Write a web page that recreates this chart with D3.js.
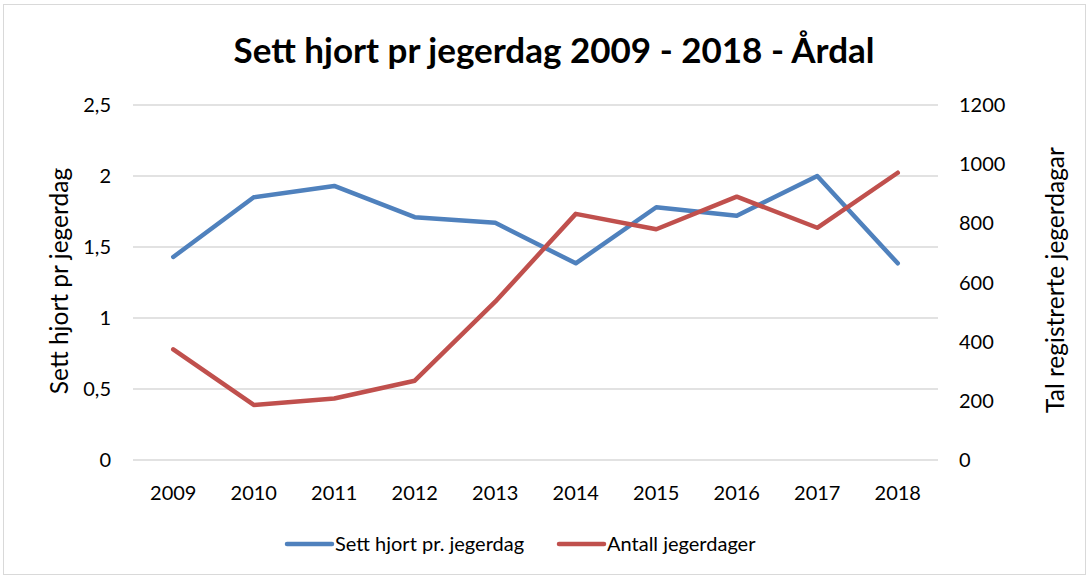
<!DOCTYPE html>
<html><head><meta charset="utf-8">
<script src="https://cdn.jsdelivr.net/npm/d3@7"></script>
<style>body{margin:0;background:#fff}svg{display:block}text{font-family:Lato,"Open Sans",sans-serif;fill:#000}</style>
</head><body><svg id="c" width="1090" height="576"></svg>
<script>
const years = ["2009","2010","2011","2012","2013","2014","2015","2016","2017","2018"];
const settHjort = [1.43,1.85,1.93,1.71,1.67,1.385,1.78,1.72,2.0,1.385];
const antallJegerdager = [374,186,208,268,535,832,780,890,785,971];
const leftTicks = [0,0.5,1,1.5,2,2.5];
const rightTicks = [0,200,400,600,800,1000,1200];

const svg = d3.select("#c");
svg.append("rect").attr("x",3.5).attr("y",4.5).attr("width",1082).attr("height",570).attr("fill","#fff").attr("stroke","#d9d9d9");

const x = d3.scaleBand().domain(years).range([133,938]);
const yL = d3.scaleLinear().domain([0,2.5]).range([460,105]);
const yR = d3.scaleLinear().domain([0,1200]).range([460,105]);
const fmt = d => String(d).replace(".",",");

const g = svg.append("g");
g.selectAll("line.grid").data(leftTicks).join("line")
  .attr("x1",133).attr("x2",938).attr("y1",d=>yL(d)).attr("y2",d=>yL(d))
  .attr("stroke","#d9d9d9").attr("stroke-width",1.5);

g.selectAll("text.yl").data(leftTicks).join("text")
  .attr("x",111).attr("y",d=>yL(d)+7).attr("text-anchor","end").attr("font-size",20).text(fmt);
g.selectAll("text.yr").data(rightTicks).join("text")
  .attr("x",959).attr("y",d=>yR(d)+7).attr("text-anchor","start").attr("font-size",20).text(d=>d);
g.selectAll("text.xl").data(years).join("text")
  .attr("x",d=>x(d)+x.bandwidth()/2).attr("y",500).attr("text-anchor","middle").attr("font-size",20).text(d=>d);

svg.append("text").attr("x",554).attr("y",63).attr("text-anchor","middle")
  .attr("font-size",35).attr("font-weight","bold").text("Sett hjort pr jegerdag 2009 - 2018 - Årdal");

svg.append("text").attr("transform","translate(68,281) rotate(-90)").attr("text-anchor","middle")
  .attr("font-size",24.5).text("Sett hjort pr jegerdag");
svg.append("text").attr("transform","translate(1064,280) rotate(-90)").attr("text-anchor","middle")
  .attr("font-size",24.5).text("Tal registrerte jegerdagar");

const cx = d => x(d)+x.bandwidth()/2;
const lineL = d3.line().x((d,i)=>cx(years[i])).y(d=>yL(d));
const lineR = d3.line().x((d,i)=>cx(years[i])).y(d=>yR(d));
svg.append("path").attr("d",lineL(settHjort)).attr("fill","none").attr("stroke","#4f81bd").attr("stroke-width",4.5).attr("stroke-linecap","round").attr("stroke-linejoin","round");
svg.append("path").attr("d",lineR(antallJegerdager)).attr("fill","none").attr("stroke","#c0504d").attr("stroke-width",4.5).attr("stroke-linecap","round").attr("stroke-linejoin","round");

const legend = [{name:"Sett hjort pr. jegerdag",color:"#4f81bd",x:287},{name:"Antall jegerdager",color:"#c0504d",x:559}];
const lg = svg.selectAll("g.lg").data(legend).join("g");
lg.append("line").attr("x1",d=>d.x).attr("x2",d=>d.x+45).attr("y1",544).attr("y2",544).attr("stroke",d=>d.color).attr("stroke-width",4.5).attr("stroke-linecap","round");
lg.append("text").attr("x",d=>d.x+48).attr("y",551).attr("font-size",20).text(d=>d.name);
</script></body></html>
